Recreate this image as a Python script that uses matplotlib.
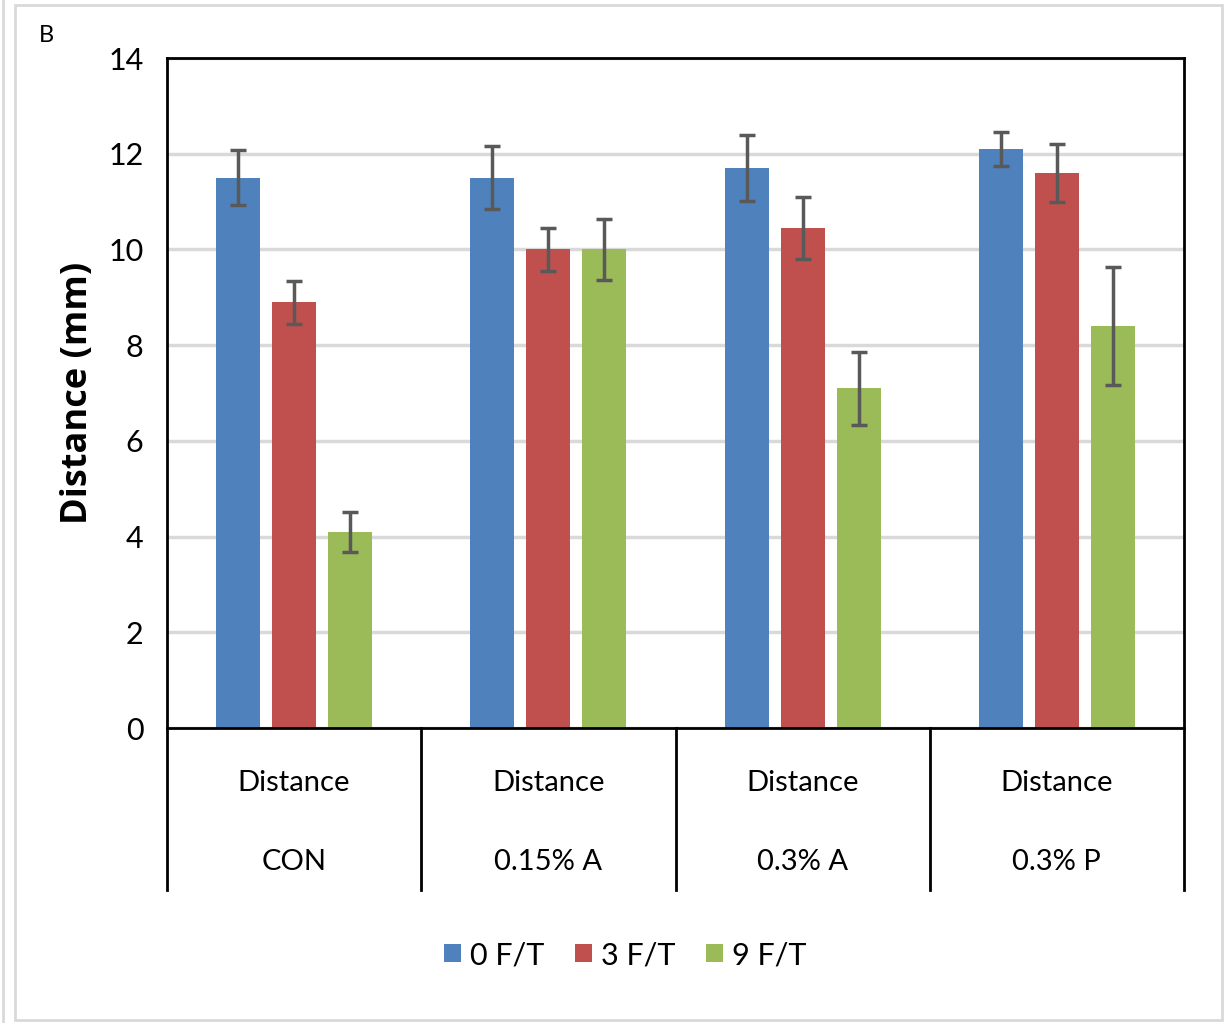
import matplotlib
matplotlib.use("Agg")
import matplotlib.pyplot as plt
from matplotlib.patches import Rectangle
import numpy as np

plt.rcParams['font.family'] = ['Lato', 'DejaVu Sans']

categories = ["CON", "0.15% A", "0.3% A", "0.3% P"]
row_label = "Distance"
series_names = ["0 F/T", "3 F/T", "9 F/T"]
series_values = [
    [11.5, 11.5, 11.7, 12.1],
    [8.9, 10.0, 10.45, 11.6],
    [4.1, 10.0, 7.1, 8.4],
]
series_errors = [
    [0.57, 0.66, 0.69, 0.36],
    [0.45, 0.45, 0.64, 0.61],
    [0.42, 0.64, 0.76, 1.23],
]
colors = ["#4F81BD", "#C0504D", "#9BBB59"]

fig = plt.figure(figsize=(12.3, 10.23), dpi=100)
W, H = 1230, 1023

# outer frame lines
fig.add_artist(Rectangle((15 / W, 1 - 1020 / H), (1222 - 15) / W, (1020 - 5) / H,
                         transform=fig.transFigure, fill=False, ec="#D9D9D9", lw=2))
fig.add_artist(plt.Line2D([3 / W, 3 / W], [0, 1], transform=fig.transFigure, color="#D9D9D9", lw=2))

left, right, top, bottom = 167, 1184, 58, 728
ax = fig.add_axes([left / W, 1 - bottom / H, (right - left) / W, (bottom - top) / H])

x = np.arange(len(categories))
bw = 0.173
step = 0.22
for i, (vals, errs, c, name) in enumerate(zip(series_values, series_errors, colors, series_names)):
    ax.bar(x + (i - 1) * step, vals, width=bw, color=c, label=name, zorder=2,
           yerr=errs, error_kw=dict(ecolor="#595959", elinewidth=2.5, capsize=6, capthick=2.5, zorder=3))

ax.set_xlim(-0.5, len(categories) - 0.5)
ax.set_ylim(0, 14)
ax.set_yticks(np.arange(0, 15, 2))
ax.yaxis.grid(True, color="#D9D9D9", lw=2.5, zorder=0)
ax.set_axisbelow(True)
ax.tick_params(axis="y", length=0, pad=17, labelsize=22)
ax.set_xticks([])
for s in ax.spines.values():
    s.set_linewidth(2)
    s.set_color("black")

ax.set_ylabel("Distance (mm)", family=["Open Sans", "DejaVu Sans"], fontweight="bold",
              fontsize=26, labelpad=9)

# two-level category labels with separators
ax_h = bottom - top
table_depth = (890 - bottom) / ax_h
for xb in np.arange(-0.5, len(categories), 1.0):
    ax.plot([xb, xb], [0, -table_depth], transform=ax.get_xaxis_transform(),
            color="black", lw=2, clip_on=False)
for xi, cat in zip(x, categories):
    ax.text(xi, -(783 - bottom) / ax_h, row_label, transform=ax.get_xaxis_transform(),
            ha="center", va="center", fontsize=21)
    ax.text(xi, -(862 - bottom) / ax_h, cat, transform=ax.get_xaxis_transform(),
            ha="center", va="center", fontsize=21)

fig.legend(loc="center", bbox_to_anchor=(625 / W, 1 - 955 / H), ncol=3, frameon=False,
           fontsize=22, handlelength=0.55, handleheight=0.55, handletextpad=0.3,
           columnspacing=1.0)

fig.text(46 / W, 1 - 36 / H, "B", fontsize=17, ha="center", va="center")

fig.savefig("out.png", dpi=100)
